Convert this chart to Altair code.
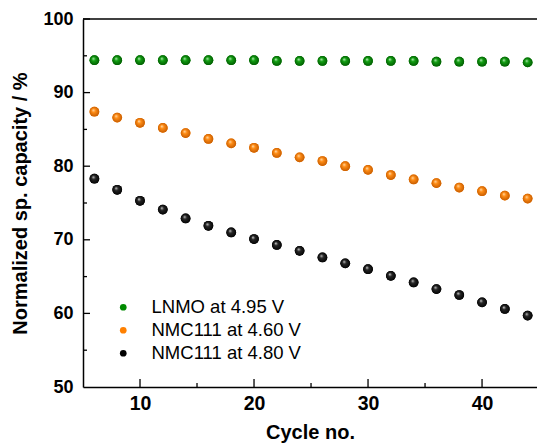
import altair as alt
import pandas as pd

# ---- data ----
cycles = [6, 8, 10, 12, 14, 16, 18, 20, 22, 24, 26, 28, 30, 32, 34, 36, 38, 40, 42, 44]
lnmo_495 = [94.4, 94.4, 94.4, 94.4, 94.4, 94.4, 94.4, 94.4, 94.3, 94.3,
            94.3, 94.3, 94.3, 94.3, 94.3, 94.2, 94.2, 94.2, 94.2, 94.1]
nmc_460 = [87.4, 86.6, 85.9, 85.2, 84.5, 83.7, 83.1, 82.5, 81.8, 81.2,
           80.7, 80.0, 79.5, 78.8, 78.2, 77.7, 77.1, 76.6, 76.0, 75.6]
nmc_480 = [78.3, 76.8, 75.3, 74.1, 72.9, 71.9, 71.0, 70.1, 69.3, 68.5,
           67.6, 66.8, 66.0, 65.1, 64.2, 63.3, 62.5, 61.5, 60.6, 59.7]
series_names = ["LNMO at 4.95 V", "NMC111 at 4.60 V", "NMC111 at 4.80 V"]
series_colors = ["#008a00", "#ff8000", "#000000"]
x_major = [10, 20, 30, 40]
x_minor = [15, 25, 35]
y_labels = [50, 60, 70, 80, 90, 100]
y_major = [60, 70, 80, 90, 100]
y_minor = [55, 65, 75, 85, 95]

rows = []
for name, vals in zip(series_names, [lnmo_495, nmc_460, nmc_480]):
    for c, v in zip(cycles, vals):
        rows.append({"cycle": c, "value": v, "series": name})
df = pd.DataFrame(rows)

W, H = 454, 368
FONT = "Liberation Sans"

xs = alt.Scale(domain=[5, 44.82], nice=False, zero=False)
ys = alt.Scale(domain=[50, 100], nice=False, zero=False)

def sphere(light, mid, dark):
    return alt.Gradient(
        gradient="radial",
        stops=[alt.GradientStop(color=light, offset=0),
               alt.GradientStop(color=mid, offset=0.35),
               alt.GradientStop(color=dark, offset=1)],
        x1=0.38, y1=0.32, r1=0, x2=0.5, y2=0.5, r2=0.55,
    )

grads = [sphere("#c8f0c8", "#12a012", "#005400"),
         sphere("#ffe2b8", "#ff8c14", "#c05800"),
         sphere("#d8d8d8", "#262626", "#000000")]

base = alt.Chart(df).mark_point(filled=True, size=95, opacity=1, shape="circle").encode(
    x=alt.X("cycle:Q", scale=xs,
            axis=alt.Axis(values=x_major, ticks=False, grid=False, labelFontSize=19.5,
                          labelPadding=7, title="Cycle no.", titleFontSize=20,
                          titlePadding=10)),
    y=alt.Y("value:Q", scale=ys,
            axis=alt.Axis(values=y_labels, ticks=False, grid=False, labelFontSize=18,
                          labelPadding=10, title="Normalized sp. capacity / %",
                          titleFontSize=20, titlePadding=12)),
    color=alt.Color("series:N", sort=series_names,
                    scale=alt.Scale(domain=series_names, range=series_colors),
                    legend=alt.Legend(title=None, orient="none", legendX=31, legendY=279,
                                      symbolSize=45, symbolType="circle",
                                      symbolStrokeWidth=0, labelFontSize=18.5,
                                      labelFont=FONT, labelFontWeight="normal",
                                      labelColor="black", labelOffset=19,
                                      rowPadding=4, padding=0)),
)

layers = [base]
for name, g in zip(series_names, grads):
    layers.append(
        alt.Chart(df).transform_filter(alt.datum.series == name)
        .mark_point(filled=True, size=95, opacity=1, shape="circle", fill=g, strokeWidth=0)
        .encode(x=alt.X("cycle:Q", scale=xs), y=alt.Y("value:Q", scale=ys))
    )

tick_style = dict(color="black", strokeWidth=1.3)
xmaj = alt.Chart(pd.DataFrame({"v": x_major})).mark_rule(**tick_style).encode(
    x=alt.X("v:Q", scale=xs), y=alt.value(H), y2=alt.value(H - 8))
xmin = alt.Chart(pd.DataFrame({"v": x_minor})).mark_rule(**tick_style).encode(
    x=alt.X("v:Q", scale=xs), y=alt.value(H), y2=alt.value(H - 4))
ymaj = alt.Chart(pd.DataFrame({"v": y_major})).mark_rule(**tick_style).encode(
    y=alt.Y("v:Q", scale=ys), x=alt.value(0), x2=alt.value(7))
ymin = alt.Chart(pd.DataFrame({"v": y_minor})).mark_rule(**tick_style).encode(
    y=alt.Y("v:Q", scale=ys), x=alt.value(0), x2=alt.value(4))
top = alt.Chart(pd.DataFrame({"v": [0]})).mark_rule(color="black", strokeWidth=1.5).encode(
    y=alt.value(0))

chart = alt.layer(*layers, xmaj, xmin, ymaj, ymin, top).properties(
    width=W, height=H,
    autosize=alt.AutoSizeParams(type="none"),
    padding={"left": 83, "top": 19, "right": 0, "bottom": 61},
    background="white",
).configure_view(stroke=None).configure_axis(
    domainColor="black", domainWidth=1.5,
    labelFont=FONT, labelFontWeight="bold", labelColor="black",
    titleFont=FONT, titleFontWeight="bold", titleColor="black",
)

chart.save("out.html", embed_options={"renderer": "svg", "actions": False})
